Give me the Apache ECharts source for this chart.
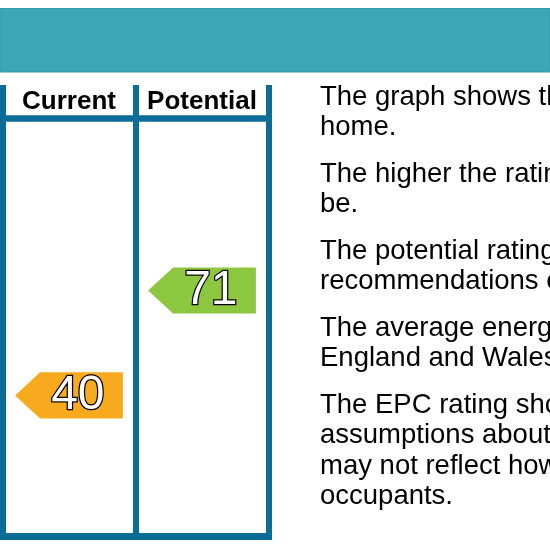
<!DOCTYPE html>
<html>
<head>
<meta charset="utf-8">
<script src="https://cdn.jsdelivr.net/npm/echarts@6/dist/echarts.min.js"></script>
<style>
  html, body { margin: 0; padding: 0; background: #fff; }
  #chart { width: 550px; height: 550px; }
</style>
</head>
<body>
<div id="chart"></div>
<script>
  // columns and the two ratings shown
  var columns = ['Current', 'Potential'];
  var ratings = [40, 71];

  // EPC bands, lowest first, with the lowest score of each band
  var bands = ['G', 'F', 'E', 'D', 'C', 'B', 'A'];
  var bandMin = [1, 21, 39, 55, 69, 81, 92];
  var bandColors = ['#E31D23', '#ED6823', '#F7AA1E', '#FFF200', '#8DC63F', '#2C9F29', '#007F3D'];

  // side notes, one array per paragraph
  var notes = [
    ['The graph shows the current energy efficiency of your', 'home.'],
    ['The higher the rating the lower your fuel bills are likely to', 'be.'],
    ['The potential rating shows the effect of undertaking the', 'recommendations on page 3.'],
    ['The average energy efficiency rating for a dwelling in', 'England and Wales is band D (rating 60).'],
    ['The EPC rating shown here is based on standard', 'assumptions about occupancy and energy use and',
     'may not reflect how energy is consumed by individual', 'occupants.']
  ];

  var frameColor = '#0C6C98';
  var fontFamily = '"Liberation Sans", Arial, sans-serif';

  function bandIndex(r) {
    var idx = 0;
    for (var i = 0; i < bandMin.length; i++) {
      if (r >= bandMin[i]) idx = i;
    }
    return idx;
  }

  var arrowData = ratings.map(function (r, i) {
    return [i, bandIndex(r), r];
  });

  var chart = echarts.init(document.getElementById('chart'));

  var graphics = [{
    type: 'rect',
    z: -1,
    shape: { x: 0, y: 8.5, width: 550, height: 63.5 },
    style: { fill: '#3CA6B9', stroke: '#2F9AAE', lineWidth: 1 }
  }];
  notes.forEach(function (lines, i) {
    graphics.push({
      type: 'text',
      left: 320,
      top: 82 + i * 77,
      style: {
        text: lines.join('\n'),
        font: '27.5px ' + fontFamily,
        lineHeight: 30.5,
        fill: '#000'
      }
    });
  });

  var option = {
    animation: false,
    graphic: graphics,
    grid: [
      { left: 2.5, top: 85, width: 266, height: 33.5 },
      { left: 2.5, top: 118.5, width: 266, height: 417.5 }
    ],
    xAxis: [{
      gridIndex: 0,
      type: 'category',
      data: columns,
      position: 'bottom',
      axisLine: { onZero: false, lineStyle: { color: frameColor, width: 6.5 } },
      axisTick: { show: false },
      axisLabel: {
        inside: true,
        interval: 0,
        margin: 4,
        fontSize: 26,
        lineHeight: 26,
        fontWeight: 'bold',
        fontFamily: fontFamily,
        color: '#000'
      },
      splitLine: { show: true, interval: 0, lineStyle: { color: frameColor, width: 6 } }
    }, {
      gridIndex: 1,
      type: 'category',
      data: columns,
      position: 'bottom',
      axisLine: { onZero: false, lineStyle: { color: frameColor, width: 7, cap: 'square' } },
      axisTick: { show: false },
      axisLabel: { show: false },
      splitLine: { show: true, interval: 0, lineStyle: { color: frameColor, width: 6 } }
    }],
    yAxis: [{
      gridIndex: 0,
      type: 'value',
      show: false
    }, {
      gridIndex: 1,
      type: 'value',
      min: -0.68,
      max: 7.28,
      show: false
    }],
    series: [{
      type: 'custom',
      xAxisIndex: 1,
      yAxisIndex: 1,
      silent: true,
      data: arrowData,
      renderItem: function (params, api) {
        var c = api.coord([api.value(0), api.value(1)]);
        var bw = api.size([1, 0])[0];
        var h = api.size([0, 1])[1] * 0.88;
        var left = c[0] - bw * 0.405;
        var right = c[0] + bw * 0.405;
        var head = h * 0.54;
        var color = bandColors[api.value(1)];
        return {
          type: 'group',
          children: [{
            type: 'polygon',
            shape: {
              points: [
                [left, c[1]],
                [left + head, c[1] - h / 2],
                [right, c[1] - h / 2],
                [right, c[1] + h / 2],
                [left + head, c[1] + h / 2]
              ]
            },
            style: { fill: color }
          }, {
            type: 'text',
            style: {
              text: String(api.value(2)),
              x: right - 45,
              y: c[1],
              align: 'center',
              verticalAlign: 'middle',
              font: '48px ' + fontFamily,
              fill: '#fff',
              stroke: '#000',
              lineWidth: 2.5,
              strokeFirst: true
            }
          }]
        };
      }
    }]
  };

  chart.setOption(option);
</script>
</body>
</html>
